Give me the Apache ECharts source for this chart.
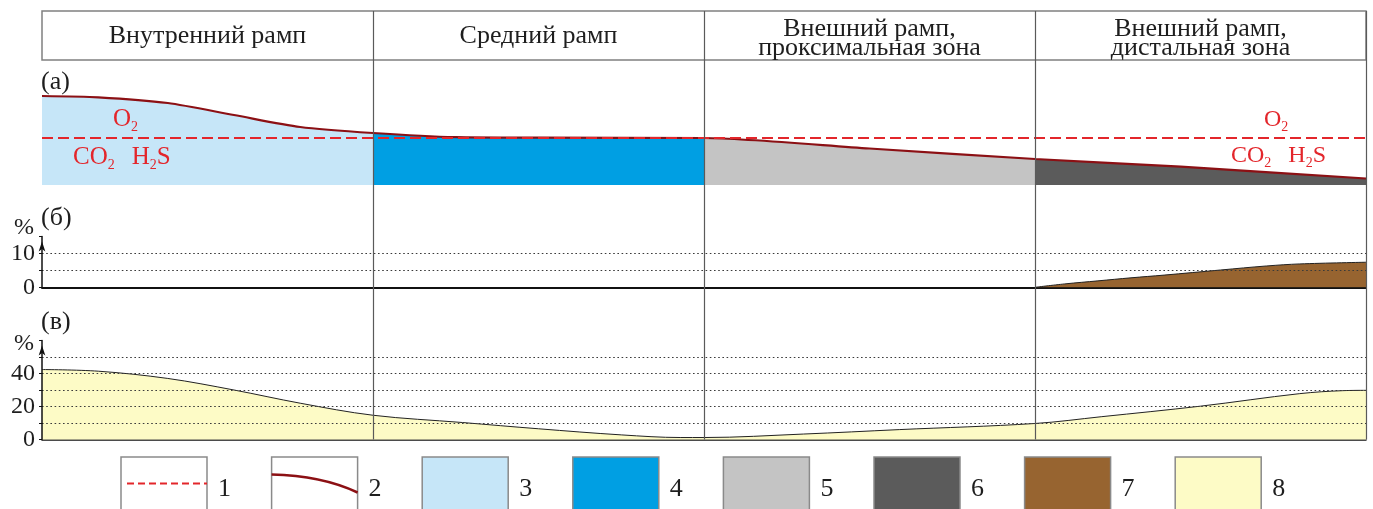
<!DOCTYPE html>
<html>
<head>
<meta charset="utf-8">
<script src="https://cdn.jsdelivr.net/npm/echarts@6/dist/echarts.min.js"></script>
<style>
  html, body { margin: 0; padding: 0; background: #fff; }
  #chart { width: 1373px; height: 509px; }
</style>
</head>
<body>
<div id="chart"></div>
<script>
// Facies zones along the ramp profile; x runs 0..4, one unit per zone
const zoneNames = [
  'Внутренний рамп',
  'Средний рамп',
  'Внешний рамп,\nпроксимальная зона',
  'Внешний рамп,\nдистальная зона'
];

// (а) redox profile: relative level of the sea floor against the O2 / CO2-H2S boundary
const redoxX = [0, 0.17, 0.38, 0.58, 0.78, 1, 1.25, 1.5, 2, 2.5, 3, 3.44, 4];
const redoxLevel = [89, 87.7, 82, 70, 58, 52, 47.8, 47.3, 47, 36.5, 26, 18.3, 6.5];
const o2Boundary = 47;

// (б) organic matter content, %
const organicX = [3, 3.09, 3.19, 3.29, 3.39, 3.56, 3.7, 3.8, 4];
const organicPct = [0, 1, 1.9, 2.8, 3.6, 5.1, 6.3, 6.9, 7.4];
const organicTicks = [0, 10];

// (в) second content profile, %
const contentX = [0, 0.17, 0.38, 0.58, 0.78, 1, 1.27, 1.5, 1.75, 1.93, 2, 2.3, 2.59, 3, 3.2, 3.5, 3.8, 3.93, 4];
const contentPct = [42.4, 41.4, 37, 30, 22, 14.7, 10.3, 6.5, 2.8, 1.2, 1.2, 3.3, 6, 9.7, 13.8, 20.2, 27.8, 29.6, 29.8];
const contentTicks = [0, 20, 40];

// Legend entries
const legendLabels = ['1', '2', '3', '4', '5', '6', '7', '8'];

// Colours
const zoneColors = ['#c6e6f8', '#009fe3', '#c4c4c4', '#5b5b5b'];
const organicColor = '#976430';
const contentColor = '#fdfbc6';
const redoxLine = '#8c1014';
const boundaryRed = '#e3262b';
const textColor = '#1e1e1e';
const serif = '"Liberation Serif", "DejaVu Serif", serif';

const pairs = (xs, ys) => xs.map((x, i) => [x, ys[i]]);

const L = 42, R = 7;

const chart = echarts.init(document.getElementById('chart'), null, { renderer: 'canvas' });

function txt(text, x, y, size, color, align, lineHeight) {
  const style = {
    text: text, fill: color || textColor,
    font: size + 'px ' + serif,
    align: align || 'left', verticalAlign: 'middle'
  };
  if (lineHeight) style.lineHeight = lineHeight;
  return { type: 'text', x: x, y: y, silent: true, z: 20, style: style };
}

// Chemical labels with subscripts
function formula(parts, x, y, size, color) {
  const els = [];
  let cx = x;
  const main = size, sub = Math.round(size * 0.58);
  parts.forEach(p => {
    if (p.gap) { cx += p.gap; return; }
    const isSub = p.sub;
    els.push(txt(p.t, cx, isSub ? y + size * 0.32 : y, isSub ? sub : main, color));
    cx += p.w * (isSub ? sub : main);
  });
  return els;
}
const O2 = [{ t: 'O', w: 0.722 }, { t: '2', w: 0.5, sub: true }];
const CO2H2S = [
  { t: 'CO', w: 1.389 }, { t: '2', w: 0.5, sub: true }, { gap: 17 },
  { t: 'H', w: 0.722 }, { t: '2', w: 0.5, sub: true }, { t: 'S', w: 0.556 }
];

const graphics = [];
graphics.push(txt('(а)', 41, 82, 26));
graphics.push(txt('(б)', 41, 218, 26));
graphics.push(txt('(в)', 41, 322, 26));
graphics.push(...formula(O2, 113, 119, 25, boundaryRed));
graphics.push(...formula(CO2H2S, 73, 157, 25, boundaryRed));
graphics.push(...formula(O2, 1264, 120, 24, boundaryRed));
graphics.push(...formula(CO2H2S, 1231, 156, 24, boundaryRed));

// Legend boxes
const legendFills = ['#ffffff', '#ffffff', zoneColors[0], zoneColors[1], zoneColors[2], zoneColors[3], organicColor, contentColor];
const boxW = 86, boxTop = 457, step = 150.6, box0 = 121;
legendLabels.forEach((lab, i) => {
  const bx = box0 + i * step;
  graphics.push({
    type: 'rect', silent: true, z: 20,
    shape: { x: bx, y: boxTop, width: boxW, height: 70 },
    style: { fill: legendFills[i], stroke: '#8a8a8a', lineWidth: 1.5 }
  });
  graphics.push(txt(lab, bx + boxW + 11, 489, 26));
  if (i === 0) {
    graphics.push({
      type: 'line', silent: true, z: 21,
      shape: { x1: bx + 6, y1: 483.5, x2: bx + boxW, y2: 483.5 },
      style: { stroke: boundaryRed, lineWidth: 2, lineDash: [7, 4] }
    });
  }
  if (i === 1) {
    graphics.push({
      type: 'bezierCurve', silent: true, z: 21,
      shape: { x1: bx, y1: 474.5, cpx1: bx + 50, cpy1: 475.5, x2: bx + boxW, y2: 492.5 },
      style: { stroke: redoxLine, lineWidth: 2.5, fill: 'none' }
    });
  }
});

const hiddenX = (gi) => ({
  type: 'value', gridIndex: gi, min: 0, max: 4, show: false
});

const pctAxis = (gi, max, interval, ticks, nameAlign, nameGap) => ({
  type: 'value', gridIndex: gi, min: 0, max: max, interval: interval, z: 5,
  name: '%', nameLocation: 'end', nameGap: nameGap,
  nameTextStyle: { fontFamily: serif, fontSize: 24, color: textColor, align: 'right', verticalAlign: nameAlign, padding: [0, 8, 0, 0] },
  axisLine: { show: true, symbol: ['none', 'arrow'], symbolSize: [5, 10], symbolOffset: [0, -5], lineStyle: { color: '#111', width: 1.5 } },
  axisTick: { show: true, length: 3, lineStyle: { color: '#111' } },
  axisLabel: {
    margin: 7, fontFamily: serif, fontSize: 24, color: textColor, padding: [4, 0, 0, 0],
    formatter: v => (ticks.includes(v) ? String(v) : '')
  },
  splitLine: { show: true, showMinLine: false, showMaxLine: false, lineStyle: { color: '#3a3a3a', width: 1, type: [1.6, 2.6] } }
});

const gridBase = { left: L, right: R, outerBoundsMode: 'none', containLabel: false };

const option = {
  backgroundColor: '#ffffff',
  animation: false,
  grid: [
    Object.assign({ top: 11, height: 49, show: true, borderColor: '#808080', borderWidth: 1.5, backgroundColor: 'transparent' }, gridBase),
    Object.assign({ top: 85, height: 100 }, gridBase),
    Object.assign({ top: 236.5, height: 50.8 }, gridBase),
    Object.assign({ top: 340.5, height: 99 }, gridBase),
    Object.assign({ top: 11, height: 428.5 }, gridBase)
  ],
  visualMap: {
    type: 'piecewise', show: false, dimension: 0, seriesIndex: 0,
    pieces: zoneColors.map((c, i) => (i < 3 ? { gte: i, lt: i + 1, color: c } : { gte: i, lte: i + 1, color: c }))
  },
  xAxis: [
    hiddenX(0),
    hiddenX(1),
    {
      type: 'value', gridIndex: 2, min: 0, max: 4,
      axisLine: { show: true, onZero: false, lineStyle: { color: '#111', width: 2 } },
      axisTick: { show: false }, axisLabel: { show: false }, splitLine: { show: false }
    },
    {
      type: 'value', gridIndex: 3, min: 0, max: 4,
      axisLine: { show: true, onZero: false, lineStyle: { color: '#111', width: 1.5 } },
      axisTick: { show: false }, axisLabel: { show: false }, splitLine: { show: false }
    },
    {
      type: 'value', gridIndex: 4, min: 0, max: 4, interval: 1, z: 10,
      axisLine: { show: false }, axisTick: { show: false }, axisLabel: { show: false },
      splitLine: { show: true, showMinLine: false, showMaxLine: true, lineStyle: { color: '#5a5a5a', width: 1.2 } }
    }
  ],
  yAxis: [
    { type: 'value', gridIndex: 0, show: false },
    { type: 'value', gridIndex: 1, min: 0, max: 100, show: false },
    pctAxis(2, 15, 5, organicTicks, 'bottom', -3),
    pctAxis(3, 60, 10, contentTicks, 'middle', -3),
    { type: 'value', gridIndex: 4, show: false }
  ],
  series: [
    {
      // zone-coloured fill under the redox profile
      type: 'line', xAxisIndex: 1, yAxisIndex: 1, data: pairs(redoxX, redoxLevel),
      smooth: 0.25, showSymbol: false, silent: true, z: 2,
      lineStyle: { width: 0 }, areaStyle: { opacity: 1 }
    },
    {
      // redox profile line and O2 / CO2-H2S boundary
      type: 'line', xAxisIndex: 1, yAxisIndex: 1, data: pairs(redoxX, redoxLevel),
      smooth: 0.25, showSymbol: false, silent: true, z: 4,
      lineStyle: { color: redoxLine, width: 2.2 },
      markLine: {
        silent: true, symbol: ['none', 'none'], label: { show: false },
        lineStyle: { color: boundaryRed, width: 2, type: [11, 5] },
        data: [{ yAxis: o2Boundary }]
      }
    },
    {
      type: 'line', xAxisIndex: 2, yAxisIndex: 2, data: pairs(organicX, organicPct),
      smooth: 0.35, showSymbol: false, silent: true, z: 2,
      lineStyle: { color: '#222', width: 1 },
      areaStyle: { color: organicColor, opacity: 1 }
    },
    {
      type: 'line', xAxisIndex: 3, yAxisIndex: 3, data: pairs(contentX, contentPct),
      smooth: 0.35, showSymbol: false, silent: true, z: 2,
      lineStyle: { color: '#222', width: 1 },
      areaStyle: { color: contentColor, opacity: 1 }
    }
  ],
  graphic: graphics
};

chart.setOption(option);

// Zone titles in the header row, centred on each zone of the shared x scale
const headerTexts = zoneNames.map((name, i) => {
  const cx = chart.convertToPixel({ xAxisIndex: 0 }, i + 0.5);
  const twoLines = name.includes('\n');
  return txt(name, cx, twoLines ? 38.5 : 36, 26, textColor, 'center', 19);
});
chart.setOption({ graphic: graphics.concat(headerTexts) });
</script>
</body>
</html>
